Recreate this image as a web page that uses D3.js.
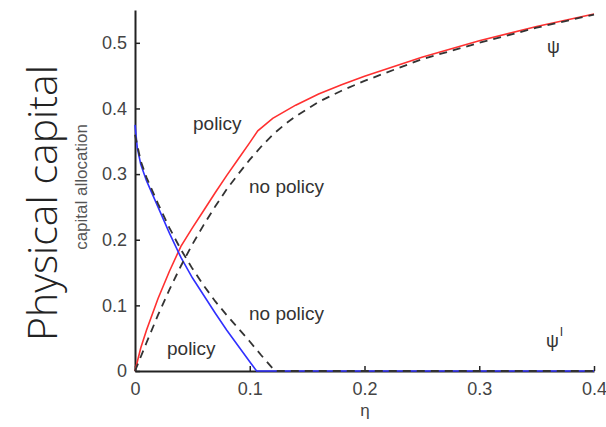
<!DOCTYPE html>
<html>
<head>
<meta charset="utf-8">
<script src="https://d3js.org/d3.v7.min.js"></script>
<style>
  body { margin: 0; background: #fff; }
  svg text { font-family: "Liberation Sans", Arial, sans-serif; }
</style>
</head>
<body>
<svg id="chart" width="606" height="427"></svg>
<script>
// capital allocation vs eta
const policyPsiX   = [0, 0.005, 0.01, 0.02, 0.03, 0.04, 0.05, 0.06, 0.07, 0.08, 0.09, 0.1, 0.107, 0.12, 0.14, 0.16, 0.18, 0.2, 0.25, 0.3, 0.35, 0.4];
const policyPsiY   = [0, 0.035, 0.062, 0.11, 0.152, 0.19, 0.218, 0.245, 0.272, 0.298, 0.323, 0.348, 0.366, 0.385, 0.405, 0.422, 0.436, 0.449, 0.478, 0.503, 0.525, 0.544];
const noPolicyPsiX = [0, 0.01, 0.02, 0.03, 0.04, 0.05, 0.06, 0.07, 0.08, 0.09, 0.1, 0.11, 0.12, 0.13, 0.14, 0.16, 0.18, 0.2, 0.25, 0.3, 0.35, 0.4];
const noPolicyPsiY = [0, 0.043, 0.085, 0.124, 0.16, 0.193, 0.223, 0.251, 0.277, 0.3, 0.322, 0.342, 0.36, 0.375, 0.388, 0.41, 0.427, 0.442, 0.475, 0.5, 0.523, 0.543];
const policyPsiLX   = [0, 0.002, 0.005, 0.01, 0.02, 0.03, 0.04, 0.05, 0.06, 0.07, 0.08, 0.09, 0.1, 0.106, 0.2, 0.3, 0.4];
const policyPsiLY   = [0.375, 0.34, 0.315, 0.29, 0.25, 0.21, 0.173, 0.142, 0.115, 0.088, 0.062, 0.038, 0.014, 0, 0, 0, 0];
const noPolicyPsiLX = [0, 0.005, 0.01, 0.02, 0.03, 0.04, 0.05, 0.06, 0.07, 0.08, 0.09, 0.1, 0.11, 0.122, 0.2, 0.3, 0.4];
const noPolicyPsiLY = [0.36, 0.32, 0.295, 0.255, 0.218, 0.185, 0.156, 0.13, 0.106, 0.085, 0.065, 0.045, 0.024, 0, 0, 0, 0];

const xTicks = [0, 0.1, 0.2, 0.3, 0.4];
const yTicks = [0, 0.1, 0.2, 0.3, 0.4, 0.5];

const svg = d3.select("#chart");
const x = d3.scaleLinear().domain([0, 0.4]).range([135, 594]);
const y = d3.scaleLinear().domain([0, 0.55]).range([371, 10]);
const fmt = d => d === 0 ? "0" : d3.format(".1f")(d);

const zip = (xs, ys) => xs.map((v, i) => [v, ys[i]]);
const line = d3.line().x(d => x(d[0])).y(d => y(d[1]));

// axes, ticks pointing inward like matlab
const xAxis = svg.append("g").attr("transform", "translate(0,371)")
  .call(d3.axisBottom(x).tickValues(xTicks).tickFormat(fmt).tickSizeInner(-5).tickSizeOuter(0).tickPadding(10));
const yAxis = svg.append("g").attr("transform", "translate(135,0)")
  .call(d3.axisLeft(y).tickValues(yTicks).tickFormat(fmt).tickSizeInner(-5).tickSizeOuter(0).tickPadding(8));
[xAxis, yAxis].forEach(a => {
  a.select(".domain").attr("stroke", "#222").attr("stroke-width", 2);
  a.selectAll(".tick line").attr("stroke", "#222").attr("stroke-width", 1.5);
  a.selectAll(".tick text").attr("fill", "#444").style("font-size", "18px");
});
xAxis.selectAll(".tick text").attr("dy", "0.75em");

// curves
svg.append("path").datum(zip(policyPsiX, policyPsiY)).attr("d", line)
  .attr("fill", "none").attr("stroke", "#ff3030").attr("stroke-width", 1.6);
svg.append("path").datum(zip(policyPsiLX, policyPsiLY)).attr("d", line)
  .attr("fill", "none").attr("stroke", "#3030ff").attr("stroke-width", 1.6);
svg.append("path").datum(zip(noPolicyPsiX, noPolicyPsiY)).attr("d", line)
  .attr("fill", "none").attr("stroke", "#333").attr("stroke-width", 1.8).attr("stroke-dasharray", "8,6");
svg.append("path").datum(zip(noPolicyPsiLX, noPolicyPsiLY)).attr("d", line)
  .attr("fill", "none").attr("stroke", "#333").attr("stroke-width", 1.8).attr("stroke-dasharray", "8,6");

// labels on the plot
const label = (tx, ty, s, size) => svg.append("text").attr("x", tx).attr("y", ty)
  .attr("fill", "#333").style("font-size", (size || 19) + "px").text(s);
label(193, 130, "policy");
label(249, 193, "no policy");
label(249, 320, "no policy");
label(167, 355, "policy");
label(547, 53, "\u03c8", 18);
label(546, 347, "\u03c8", 18);
label(560, 336, "l", 13);

// axis titles
svg.append("text").attr("x", 365).attr("y", 416).attr("text-anchor", "middle")
  .attr("fill", "#444").style("font-size", "17px").text("\u03b7");
svg.append("text").attr("transform", "translate(87,187) rotate(-90)").attr("text-anchor", "middle")
  .attr("fill", "#555").style("font-size", "17px").text("capital allocation");
svg.append("text").attr("transform", "translate(57,203) rotate(-90)").attr("text-anchor", "middle")
  .attr("fill", "#222").style("font-family", "'Open Sans', sans-serif").style("font-weight", 300)
  .style("font-size", "41px").text("Physical capital");
</script>
</body>
</html>
